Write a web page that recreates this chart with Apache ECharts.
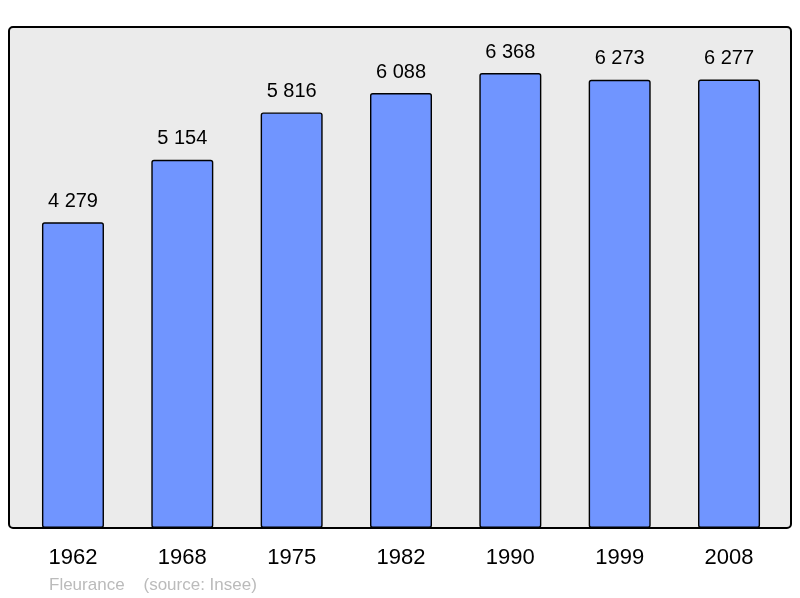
<!DOCTYPE html>
<html><head><meta charset="utf-8">
<script src="https://cdn.jsdelivr.net/npm/echarts@6/dist/echarts.min.js"></script>
<style>html,body{margin:0;padding:0;background:#fff}#c{width:800px;height:598px}</style>
</head><body><div id="c"></div>
<script>
var categories = ['1962','1968','1975','1982','1990','1999','2008'];
var values = [4279, 5154, 5816, 6088, 6368, 6273, 6277];
var labels = ['4 279','5 154','5 816','6 088','6 368','6 273','6 277'];
var footer = 'Fleurance    (source: Insee)';

var chart = echarts.init(document.getElementById('c'), null, {renderer:'canvas'});
chart.setOption({
  animation: false,
  backgroundColor: '#fff',
  graphic: [
    {type:'rect', shape:{x:9, y:27, width:782, height:501, r:4}, style:{fill:'#ebebeb', stroke:'#000', lineWidth:2}, z:-10},
    {type:'text', left:49, top:577, style:{text:footer, fill:'#bbbbbb', font:'17px "Liberation Sans", Arial, sans-serif'}}
  ],
  grid: {left:18.3, right:16.3, top:27, bottom:70, containLabel:false},
  xAxis: {
    type:'category', data:categories,
    axisLine:{show:false}, axisTick:{show:false},
    axisLabel:{color:'#000', fontSize:22, fontFamily:'"Liberation Sans", Arial, sans-serif', margin:19}
  },
  yAxis: {type:'value', min:0, max:7012, show:false, splitLine:{show:false}},
  series: [{
    type:'bar', data:values, barWidth:62,
    itemStyle:{color:'#7095ff', borderColor:'#000', borderWidth:1.4, borderRadius:2},
    label:{show:true, position:'top', distance:11, color:'#000', fontSize:20,
      fontFamily:'"Liberation Sans", Arial, sans-serif',
      formatter:function(p){return labels[p.dataIndex];}}
  }]
});
</script></body></html>
